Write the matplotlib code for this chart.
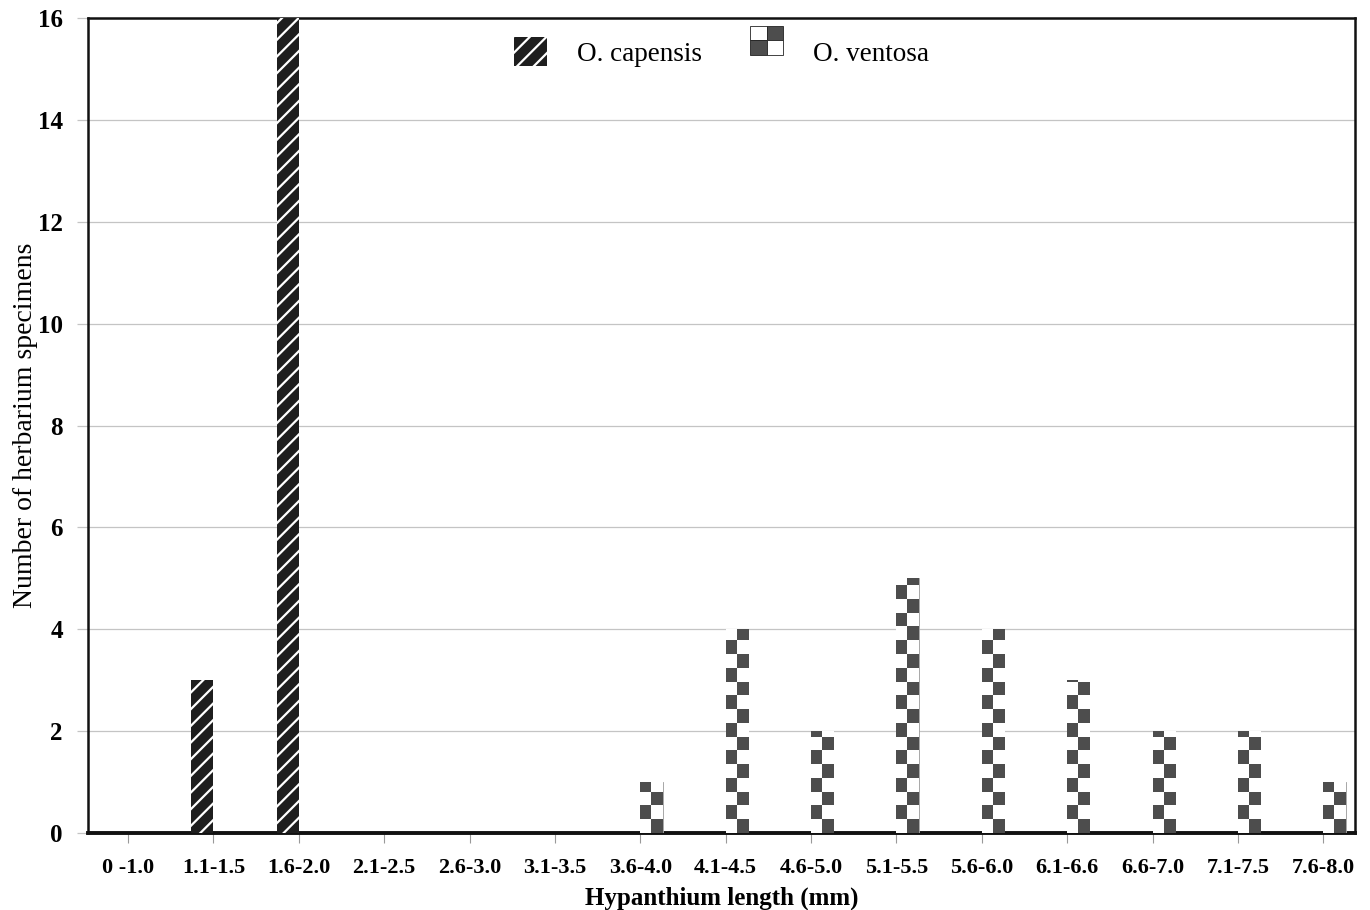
import numpy as np
import matplotlib
matplotlib.use("Agg")
import matplotlib.pyplot as plt
from matplotlib.patches import Rectangle
from matplotlib.colors import ListedColormap

categories = ["0 -1.0", "1.1-1.5", "1.6-2.0", "2.1-2.5", "2.6-3.0", "3.1-3.5",
              "3.6-4.0", "4.1-4.5", "4.6-5.0", "5.1-5.5", "5.6-6.0", "6.1-6.6",
              "6.6-7.0", "7.1-7.5", "7.6-8.0"]
capensis = [0, 3, 16, 0, 0, 0, 0, 0, 0, 0, 0, 0, 0, 0, 0]
ventosa = [0, 0, 0, 0, 0, 0, 1, 4, 2, 5, 4, 3, 2, 2, 1]
yticks = [0, 2, 4, 6, 8, 10, 12, 14, 16]

plt.rcParams['font.family'] = ['Liberation Serif', 'DejaVu Serif']
plt.rcParams['hatch.linewidth'] = 1.6
plt.rcParams['hatch.color'] = 'white'

DARK = '#4d4d4d'


class CheckerProxy:
    pass


class CheckerHandler:
    def legend_artist(self, legend, orig_handle, fontsize, handlebox):
        x0, y0 = handlebox.xdescent, handlebox.ydescent
        w, h = handlebox.width, handlebox.height
        tr = handlebox.get_transform()
        cols = [['white', DARK], [DARK, 'white']]  # rows top->bottom
        for r in range(2):
            for c in range(2):
                rect = Rectangle((x0 + c * w / 2, y0 + (1 - r) * h / 2), w / 2, h / 2,
                                 facecolor=cols[r][c], edgecolor='#222222', lw=0.6,
                                 transform=tr)
                handlebox.add_artist(rect)
        return rect


fig = plt.figure(figsize=(13.7, 9.1), dpi=100)
ax = fig.add_axes([0.0642, 0.0846, 0.9248, 0.8956])

x = np.arange(len(categories))
w = 0.26

cap_bars = ax.bar(x - w / 2, capensis, width=w, facecolor='#1e1e1e',
                  edgecolor='white', hatch='//', linewidth=0, zorder=3)
ven_bars = ax.bar(x + w / 2, ventosa, width=w, facecolor='white',
                  edgecolor='#999999', linewidth=0.6, zorder=3)

# checkerboard fill for O. ventosa
cell_h = 0.27
cmap = ListedColormap(['white', DARK])
for bar, val in zip(ven_bars, ventosa):
    if val <= 0:
        continue
    n = int(np.ceil(val / cell_h))
    pat = (np.add.outer(np.arange(n), np.arange(2)) % 2)
    im = ax.imshow(pat, extent=(bar.get_x(), bar.get_x() + bar.get_width(), 0, n * cell_h),
                   origin='lower', cmap=cmap, interpolation='nearest', aspect='auto',
                   zorder=3.5)
    im.set_clip_path(bar)

ax.set_xlim(-0.47, 14.37)
ax.set_ylim(0, 16)
ax.set_aspect('auto')

ax.set_yticks(yticks)
ax.set_yticklabels([str(v) for v in yticks], fontsize=18, fontweight='bold')
ax.set_xticks(x)
ax.set_xticklabels(categories, fontsize=16, fontweight='bold')

ax.yaxis.grid(True, color='#c4c4c4', linewidth=0.9, zorder=0)
ax.set_axisbelow(True)
ax.tick_params(axis='y', length=8, color='#c4c4c4', width=0.9, pad=10)
ax.tick_params(axis='x', length=7, color='#999999', width=0.8, pad=11)
ax.yaxis.get_major_ticks()[-1].tick1line.set_color('black')

for side in ['left', 'right', 'top']:
    ax.spines[side].set_linewidth(1.8)
    ax.spines[side].set_color('#111111')
ax.spines['bottom'].set_linewidth(2.8)
ax.spines['bottom'].set_color('#111111')

ax.set_ylabel("Number of herbarium specimens", fontsize=20, labelpad=0)
ax.set_xlabel("Hypanthium length (mm)", fontsize=18, fontweight='bold', labelpad=6)

ax.legend([cap_bars, CheckerProxy()], ["O. capensis", "O. ventosa"],
          handler_map={CheckerProxy: CheckerHandler()},
          loc='upper center', ncol=2, frameon=False, fontsize=19.5,
          handlelength=1.2, handleheight=1.3, handletextpad=1.1,
          columnspacing=1.8, borderaxespad=0.3)

fig.savefig("out.png", dpi=100)
